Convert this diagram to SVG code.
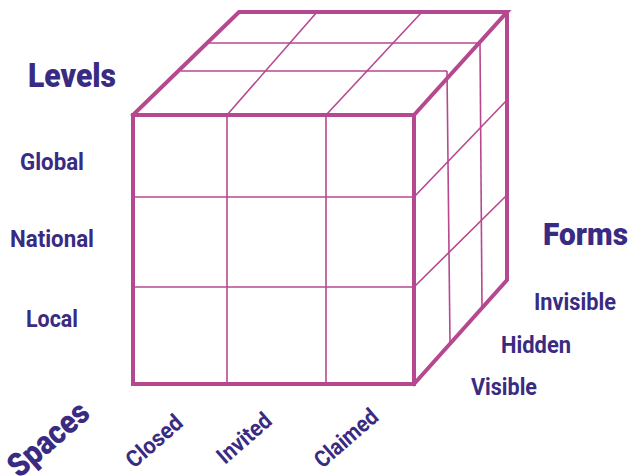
<svg xmlns="http://www.w3.org/2000/svg" width="633" height="476" viewBox="0 0 633 476">
<style>
.thick{fill:none;stroke:#b6488f;stroke-width:4;stroke-linejoin:miter;stroke-linecap:square}
.thin{fill:none;stroke:#b6488f;stroke-width:1.6}
.t{font-family:Roboto,"Liberation Sans",sans-serif;fill:#3a2b82;font-weight:bold}
.lbl{font-size:24px}
.rot{font-size:23px}
.head{font-size:33px;font-weight:900}
</style>
<rect width="633" height="476" fill="#ffffff"/>
<g id="cube">
  <g id="top-face-grid">
    <line class="thin" x1="209" y1="43" x2="480" y2="43"/>
    <line class="thin" x1="181" y1="71" x2="447" y2="71"/>
    <line class="thin" x1="227" y1="115" x2="317" y2="12"/>
    <line class="thin" x1="326" y1="115" x2="422" y2="12"/>
  </g>
  <g id="right-face-grid">
    <line class="thin" x1="447" y1="71" x2="450" y2="343"/>
    <line class="thin" x1="480" y1="43" x2="482" y2="306"/>
    <line class="thin" x1="414" y1="197" x2="507" y2="100"/>
    <line class="thin" x1="414" y1="287" x2="507" y2="195"/>
  </g>
  <g id="front-face-grid">
    <line class="thin" x1="227" y1="115" x2="227" y2="384"/>
    <line class="thin" x1="326" y1="115" x2="326" y2="384"/>
    <line class="thin" x1="133" y1="197" x2="414" y2="197"/>
    <line class="thin" x1="133" y1="287" x2="414" y2="287"/>
  </g>
  <g id="outline">
    <rect class="thick" x="133" y="115" width="281" height="269"/>
    <polyline class="thick" points="133,115 239,12 507,12 414,115"/>
    <polyline class="thick" points="507,12 507,280 414,384"/>
  </g>
</g>
<g id="levels">
  <text class="t head" x="28" y="87" textLength="88" lengthAdjust="spacingAndGlyphs">Levels</text>
  <text class="t lbl" x="20" y="170" textLength="64" lengthAdjust="spacingAndGlyphs">Global</text>
  <text class="t lbl" x="10" y="247" textLength="84" lengthAdjust="spacingAndGlyphs">National</text>
  <text class="t lbl" x="26" y="327" textLength="52" lengthAdjust="spacingAndGlyphs">Local</text>
</g>
<g id="forms">
  <text class="t head" x="543" y="245" font-size="31" textLength="85" lengthAdjust="spacingAndGlyphs" style="font-size:31px">Forms</text>
  <text class="t lbl" x="534" y="310" textLength="82" lengthAdjust="spacingAndGlyphs">Invisible</text>
  <text class="t lbl" x="501" y="353" textLength="70" lengthAdjust="spacingAndGlyphs">Hidden</text>
  <text class="t lbl" x="471" y="395" textLength="66" lengthAdjust="spacingAndGlyphs">Visible</text>
</g>
<g id="spaces">
  <text class="t head" transform="translate(49,440) rotate(-41)" x="0" y="10" text-anchor="middle" textLength="96" lengthAdjust="spacingAndGlyphs">Spaces</text>
  <text class="t rot" transform="translate(154,441) rotate(-41)" x="0" y="8" text-anchor="middle" textLength="67" lengthAdjust="spacingAndGlyphs">Closed</text>
  <text class="t rot" transform="translate(244,438) rotate(-41)" x="0" y="8" text-anchor="middle" textLength="64" lengthAdjust="spacingAndGlyphs">Invited</text>
  <text class="t rot" transform="translate(346,438) rotate(-41)" x="0" y="8" text-anchor="middle" textLength="76" lengthAdjust="spacingAndGlyphs">Claimed</text>
</g>
</svg>
